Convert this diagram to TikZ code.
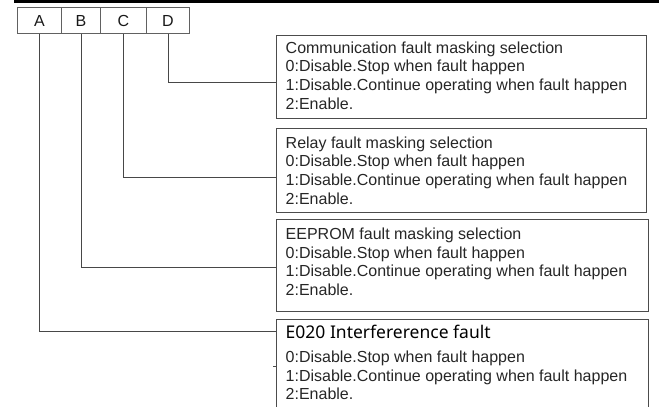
\documentclass[tikz,border=0pt]{standalone}
\usepackage{fontspec}
\setmainfont{Liberation Sans}
\newfontfamily\yhfont{Noto Sans}
\begin{document}
\begin{tikzpicture}[x=1pt,y=-1pt,
  letterbox/.style={draw=black!62, line width=1pt, rectangle, inner sep=0, minimum height=26,
    font=\fontsize{16}{18}\selectfont, text=black!90},
  infobox/.style={draw=black!70, line width=1.2pt, rectangle, anchor=north west, inner sep=0},
  infotext/.style={anchor=north west, inner sep=0, align=left, text=black!85,
    font=\fontsize{16}{18.6}\selectfont},
  wire/.style={draw=black!72, line width=1pt}]
\useasboundingbox (0,0) rectangle (659,407);
\clip (0,0) rectangle (659,407);
% top rule
\fill[black] (14,0) rectangle (659,2.7);
% letter boxes
\node[letterbox, minimum width=44, anchor=north west] (A) at (17,7) {A};
\node[letterbox, minimum width=39, anchor=north west] (B) at (61,7) {B};
\node[letterbox, minimum width=46, anchor=north west] (C) at (100,7) {C};
\node[letterbox, minimum width=43, anchor=north west] (D) at (146,7) {D};
% info boxes
\node[infobox, minimum width=370, minimum height=83] (b1) at (276,35) {};
\node[infobox, minimum width=370, minimum height=84] (b2) at (276,128) {};
\node[infobox, minimum width=372, minimum height=92] (b3) at (276,219) {};
\node[infobox, minimum width=372, minimum height=100] (b4) at (276,319) {};
% texts
\node[infotext] (t1) at (285.5,41.5) {Communication fault masking selection\\0:Disable.Stop when fault happen\\1:Disable.Continue operating when fault happen\\2:Enable.};
\node[infotext] (t2) at (285.5,136.5) {Relay fault masking selection\\0:Disable.Stop when fault happen\\1:Disable.Continue operating when fault happen\\2:Enable.};
\node[infotext] (t3) at (285.5,228) {EEPROM fault masking selection\\0:Disable.Stop when fault happen\\1:Disable.Continue operating when fault happen\\2:Enable.};
\node[infotext] (t4) at (285.5,325) {{\yhfont\fontsize{17.5}{18.6}\selectfont\color{black}E020 Interfererence fault}\\[5.5pt]0:Disable.Stop when fault happen\\1:Disable.Continue operating when fault happen\\2:Enable.};
% connection points
\coordinate (p1) at (276,82);
\coordinate (p2) at (276,177);
\coordinate (p3) at (276,267);
\coordinate (p4) at (276,331);
% connectors
\draw[wire] (D.south) |- (p1);
\draw[wire] (C.south) |- (p2);
\draw[wire] (B.south) |- (p3);
\draw[wire] (A.south) |- (p4);
% small tick
\draw[black!70, line width=0.8pt] (273,366) -- (276,366);
\end{tikzpicture}
\end{document}
